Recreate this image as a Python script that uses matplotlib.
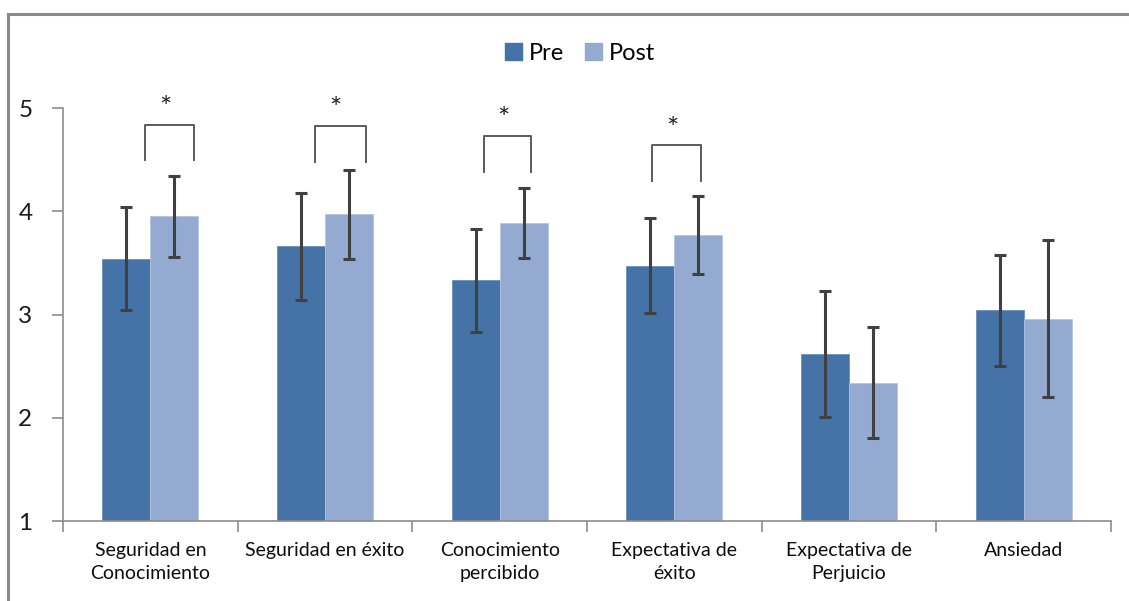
import matplotlib
matplotlib.use("Agg")
import matplotlib.pyplot as plt
from matplotlib.lines import Line2D
from matplotlib.patches import Patch
import numpy as np

plt.rcParams['font.family'] = ['Lato', 'DejaVu Sans']

categories = ["Seguridad en\nConocimiento", "Seguridad en éxito", "Conocimiento\npercibido",
              "Expectativa de\néxito", "Expectativa de\nPerjuicio", "Ansiedad"]
pre_mean = [3.54, 3.66, 3.33, 3.47, 2.62, 3.04]
pre_err = [0.50, 0.52, 0.50, 0.46, 0.61, 0.54]
post_mean = [3.95, 3.97, 3.89, 3.77, 2.34, 2.96]
post_err = [0.39, 0.43, 0.34, 0.38, 0.54, 0.76]
significant = [0, 1, 2, 3]
y_ticks = [1, 2, 3, 4, 5]

PRE_COLOR = "#4573A7"
POST_COLOR = "#95AAD1"
ERR_COLOR = "#404040"
AXIS_COLOR = "#8C8C8C"

fig = plt.figure(figsize=(11.29, 6.01), dpi=100)
ax = fig.add_axes([63 / 1129, 1 - 521 / 601, (1111 - 63) / 1129, (521 - 108) / 601])

x = np.arange(len(categories))
bw = 0.275
err_kw = dict(ecolor=ERR_COLOR, elinewidth=2.2, capsize=4.5, capthick=2.2)
ax.bar(x - bw / 2, [m - 1 for m in pre_mean], bw, bottom=1, color=PRE_COLOR,
       edgecolor="#6D8FBE", linewidth=0.6, yerr=pre_err, error_kw=err_kw, label="Pre", zorder=2)
ax.bar(x + bw / 2, [m - 1 for m in post_mean], bw, bottom=1, color=POST_COLOR,
       edgecolor="#B4C4E0", linewidth=0.6, yerr=post_err, error_kw=err_kw, label="Post", zorder=2)

ax.set_xlim(-0.5, len(categories) - 0.5)
ax.set_ylim(1, 5)

# significance brackets (hand-placed above each significant pair)
bracket_left = [-0.03, -0.057, -0.09, -0.13]
bracket_right = [0.25, 0.235, 0.18, 0.155]
bracket_top = [4.84, 4.83, 4.73, 4.64]
bracket_bottom = [4.50, 4.48, 4.38, 4.29]
star_dx = [0.086, 0.057, 0.023, -0.011]
for k, i in enumerate(significant):
    xl, xr = i + bracket_left[k], i + bracket_right[k]
    ax.plot([xl, xl, xr, xr], [bracket_bottom[k], bracket_top[k], bracket_top[k], bracket_bottom[k]],
            color="#5A5A5A", lw=1.4, clip_on=False, zorder=3)
    ax.text(i + star_dx[k], bracket_top[k] + 0.15, "*", ha="center", va="center",
            fontsize=21, color="#222222", clip_on=False)

# axes styling
for side in ("top", "right"):
    ax.spines[side].set_visible(False)
for side in ("left", "bottom"):
    ax.spines[side].set_color(AXIS_COLOR)
    ax.spines[side].set_linewidth(1.2)

ax.set_yticks(y_ticks)
ax.set_yticklabels([str(t) for t in y_ticks], fontsize=17.5, color="#1A1A1A")
ax.tick_params(axis="y", length=8, width=1.2, color=AXIS_COLOR, pad=14)

ax.set_xticks(x)
ax.set_xticklabels(categories, fontsize=14, color="#0D0D0D", linespacing=1.45)
ax.tick_params(axis="x", length=0, pad=15)
ax.set_xticks(np.arange(len(categories) + 1) - 0.5, minor=True)
ax.tick_params(axis="x", which="minor", length=8, width=1.2, color=AXIS_COLOR)

handles = [Patch(facecolor=PRE_COLOR, edgecolor=PRE_COLOR),
           Patch(facecolor=POST_COLOR, edgecolor=POST_COLOR)]
fig.legend(handles, ["Pre", "Post"], loc="center", bbox_to_anchor=(580 / 1129, 1 - 53 / 601),
           ncol=2, frameon=False, fontsize=17, handlelength=0.7, handleheight=0.7,
           handletextpad=0.3, columnspacing=0.9)

# outer chart frame
fig.add_artist(Line2D([8 / 1129, 1.0], [1 - 14 / 601, 1 - 14 / 601], transform=fig.transFigure,
                      color="#8A8A8A", lw=2.2))
fig.add_artist(Line2D([8 / 1129, 8 / 1129], [0.0, 1 - 14 / 601], transform=fig.transFigure,
                      color="#8A8A8A", lw=2.2))

fig.savefig("out.png", dpi=100)
